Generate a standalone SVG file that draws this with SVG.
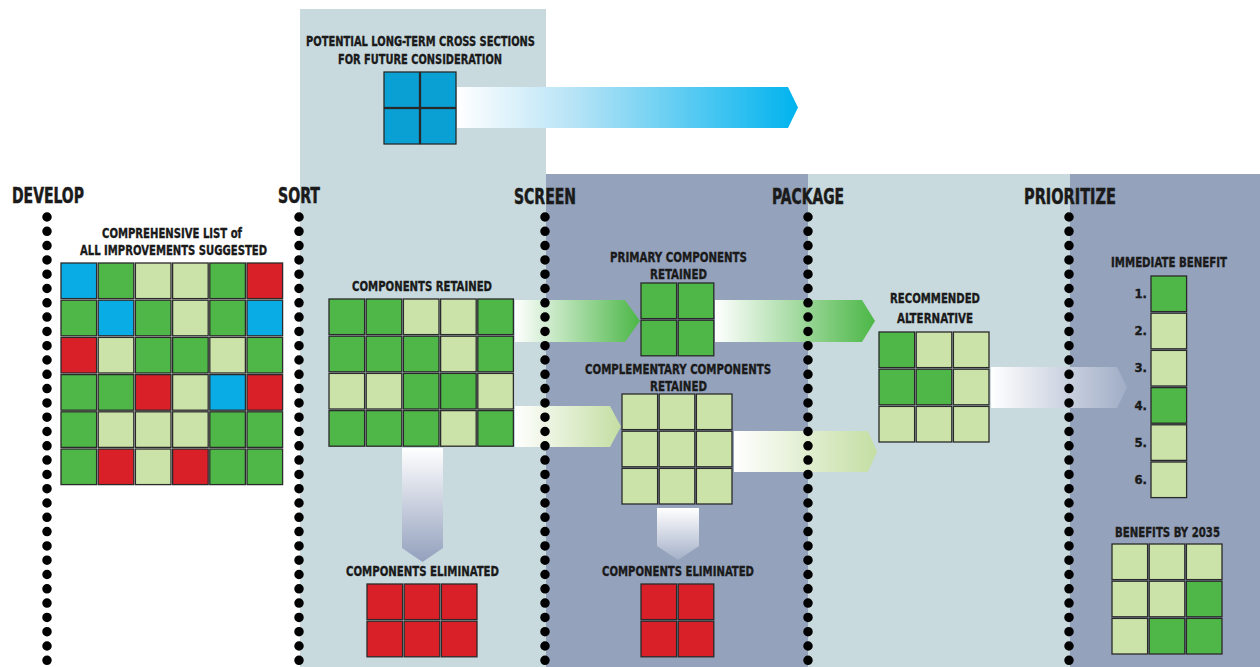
<svg xmlns="http://www.w3.org/2000/svg" width="1260" height="667" viewBox="0 0 1260 667">
<style>
text{font-family:"Liberation Sans Narrow","DejaVu Sans Condensed","Liberation Sans",sans-serif;font-weight:bold;fill:#1a1a1a;stroke:#1a1a1a;stroke-width:0.35}
.h{font-size:21px;stroke-width:0.5}
.t{font-size:14px}
.n{font-size:13px;text-anchor:end}
.c{stroke:#2a2a2a;stroke-width:1.3}
.G{fill:#4eb748}
.L{fill:#cbe2a8}
.R{fill:#d91f27}
.B{fill:#0aacE6}
.T{fill:#0aa0d4}
.dots{stroke:#000;stroke-width:9.5;stroke-linecap:round;stroke-dasharray:0 14.3;fill:none}
</style>
<defs>
<linearGradient id="gBlue" x1="0" y1="0" x2="1" y2="0"><stop offset="0" stop-color="#ffffff"/><stop offset="0.35" stop-color="#b5e3f6"/><stop offset="1" stop-color="#00b3ee"/></linearGradient>
<linearGradient id="gGreen" x1="0" y1="0" x2="1" y2="0"><stop offset="0" stop-color="#ffffff"/><stop offset="1" stop-color="#4cb747"/></linearGradient>
<linearGradient id="gLight" x1="0" y1="0" x2="1" y2="0"><stop offset="0" stop-color="#ffffff"/><stop offset="1" stop-color="#c4dea3"/></linearGradient>
<linearGradient id="gDown" x1="0" y1="0" x2="0" y2="1"><stop offset="0" stop-color="#ffffff"/><stop offset="1" stop-color="#93a0bd"/></linearGradient>
<linearGradient id="gDown2" x1="0" y1="0" x2="0" y2="1"><stop offset="0" stop-color="#ffffff"/><stop offset="1" stop-color="#a4b0c8"/></linearGradient>
<linearGradient id="gGray" x1="0" y1="0" x2="1" y2="0"><stop offset="0" stop-color="#ffffff"/><stop offset="1" stop-color="#a0adc6"/></linearGradient>
</defs>
<rect width="1260" height="667" fill="#ffffff"/>
<g id="panels">
<rect x="300" y="9" width="246" height="658" fill="#c9dadf"/>
<rect x="546" y="174" width="262" height="493" fill="#94a2bc"/>
<rect x="808" y="174" width="262" height="493" fill="#c9dadf"/>
<rect x="1070" y="174" width="190" height="493" fill="#94a2bc"/>
</g>
<g id="connectors">
<polygon points="457,87 788,87 798,107.5 788,128 457,128" fill="url(#gBlue)"/>
<polygon points="515,300 625,300 640,321 625,342 515,342" fill="url(#gGreen)"/>
<polygon points="515,406 610,406 621,426.5 610,447 515,447" fill="url(#gLight)"/>
<polygon points="715,300 862,300 875,321 862,342 715,342" fill="url(#gGreen)"/>
<polygon points="734,431 868,431 877,451.5 868,472 734,472" fill="url(#gLight)"/>
<polygon points="402,448 443,448 443,548 422.5,562 402,548" fill="url(#gDown)"/>
<polygon points="657,508 699,508 699,546 678,560 657,546" fill="url(#gDown2)"/>
<polygon points="991,367 1117,367 1127,387.5 1117,408 991,408" fill="url(#gGray)"/>
</g>
<g id="dividers">
<line class="dots" x1="47" y1="217" x2="47" y2="667"/>
<line class="dots" x1="299" y1="217" x2="299" y2="667"/>
<line class="dots" x1="545" y1="217" x2="545" y2="667"/>
<line class="dots" x1="808" y1="217" x2="808" y2="667"/>
<line class="dots" x1="1069" y1="217" x2="1069" y2="667"/>
</g>
<g id="headers">
<text class="h" x="12" y="203" textLength="72" lengthAdjust="spacingAndGlyphs">DEVELOP</text>
<text class="h" x="278" y="203" textLength="42" lengthAdjust="spacingAndGlyphs">SORT</text>
<text class="h" x="514" y="204" textLength="62" lengthAdjust="spacingAndGlyphs">SCREEN</text>
<text class="h" x="772" y="204" textLength="72" lengthAdjust="spacingAndGlyphs">PACKAGE</text>
<text class="h" x="1024" y="204" textLength="92" lengthAdjust="spacingAndGlyphs">PRIORITIZE</text>
</g>
<g id="comprehensive-list">
<text class="t" x="102" y="238" textLength="140" lengthAdjust="spacingAndGlyphs">COMPREHENSIVE LIST of</text>
<text class="t" x="80" y="255" textLength="187" lengthAdjust="spacingAndGlyphs">ALL IMPROVEMENTS SUGGESTED</text>
<g class="c">
<rect class="B" x="61" y="263" width="35.6" height="35.6"/><rect class="G" x="98.2" y="263" width="35.6" height="35.6"/><rect class="L" x="135.4" y="263" width="35.6" height="35.6"/><rect class="L" x="172.6" y="263" width="35.6" height="35.6"/><rect class="G" x="209.8" y="263" width="35.6" height="35.6"/><rect class="R" x="247" y="263" width="35.6" height="35.6"/>
<rect class="G" x="61" y="300.2" width="35.6" height="35.6"/><rect class="B" x="98.2" y="300.2" width="35.6" height="35.6"/><rect class="G" x="135.4" y="300.2" width="35.6" height="35.6"/><rect class="L" x="172.6" y="300.2" width="35.6" height="35.6"/><rect class="G" x="209.8" y="300.2" width="35.6" height="35.6"/><rect class="B" x="247" y="300.2" width="35.6" height="35.6"/>
<rect class="R" x="61" y="337.4" width="35.6" height="35.6"/><rect class="L" x="98.2" y="337.4" width="35.6" height="35.6"/><rect class="G" x="135.4" y="337.4" width="35.6" height="35.6"/><rect class="G" x="172.6" y="337.4" width="35.6" height="35.6"/><rect class="L" x="209.8" y="337.4" width="35.6" height="35.6"/><rect class="G" x="247" y="337.4" width="35.6" height="35.6"/>
<rect class="G" x="61" y="374.6" width="35.6" height="35.6"/><rect class="G" x="98.2" y="374.6" width="35.6" height="35.6"/><rect class="R" x="135.4" y="374.6" width="35.6" height="35.6"/><rect class="L" x="172.6" y="374.6" width="35.6" height="35.6"/><rect class="B" x="209.8" y="374.6" width="35.6" height="35.6"/><rect class="R" x="247" y="374.6" width="35.6" height="35.6"/>
<rect class="G" x="61" y="411.8" width="35.6" height="35.6"/><rect class="L" x="98.2" y="411.8" width="35.6" height="35.6"/><rect class="L" x="135.4" y="411.8" width="35.6" height="35.6"/><rect class="L" x="172.6" y="411.8" width="35.6" height="35.6"/><rect class="G" x="209.8" y="411.8" width="35.6" height="35.6"/><rect class="G" x="247" y="411.8" width="35.6" height="35.6"/>
<rect class="G" x="61" y="449" width="35.6" height="35.6"/><rect class="R" x="98.2" y="449" width="35.6" height="35.6"/><rect class="L" x="135.4" y="449" width="35.6" height="35.6"/><rect class="R" x="172.6" y="449" width="35.6" height="35.6"/><rect class="G" x="209.8" y="449" width="35.6" height="35.6"/><rect class="G" x="247" y="449" width="35.6" height="35.6"/>
</g>
</g>
<g id="long-term">
<text class="t" x="306" y="46" textLength="229" lengthAdjust="spacingAndGlyphs">POTENTIAL LONG-TERM CROSS SECTIONS</text>
<text class="t" x="338" y="64" textLength="164" lengthAdjust="spacingAndGlyphs">FOR FUTURE CONSIDERATION</text>
<g class="c">
<rect class="T" x="384" y="72" width="35.5" height="35.5"/><rect class="T" x="420.5" y="72" width="35.5" height="35.5"/>
<rect class="T" x="384" y="108.5" width="35.5" height="35.5"/><rect class="T" x="420.5" y="108.5" width="35.5" height="35.5"/>
</g>
</g>
<g id="components-retained">
<text class="t" x="352" y="291" textLength="140" lengthAdjust="spacingAndGlyphs">COMPONENTS RETAINED</text>
<g class="c">
<rect class="G" x="329" y="299" width="35.6" height="35.6"/><rect class="G" x="366.2" y="299" width="35.6" height="35.6"/><rect class="L" x="403.4" y="299" width="35.6" height="35.6"/><rect class="L" x="440.6" y="299" width="35.6" height="35.6"/><rect class="G" x="477.8" y="299" width="35.6" height="35.6"/>
<rect class="G" x="329" y="336.2" width="35.6" height="35.6"/><rect class="G" x="366.2" y="336.2" width="35.6" height="35.6"/><rect class="G" x="403.4" y="336.2" width="35.6" height="35.6"/><rect class="L" x="440.6" y="336.2" width="35.6" height="35.6"/><rect class="G" x="477.8" y="336.2" width="35.6" height="35.6"/>
<rect class="L" x="329" y="373.4" width="35.6" height="35.6"/><rect class="L" x="366.2" y="373.4" width="35.6" height="35.6"/><rect class="G" x="403.4" y="373.4" width="35.6" height="35.6"/><rect class="G" x="440.6" y="373.4" width="35.6" height="35.6"/><rect class="L" x="477.8" y="373.4" width="35.6" height="35.6"/>
<rect class="G" x="329" y="410.6" width="35.6" height="35.6"/><rect class="G" x="366.2" y="410.6" width="35.6" height="35.6"/><rect class="G" x="403.4" y="410.6" width="35.6" height="35.6"/><rect class="L" x="440.6" y="410.6" width="35.6" height="35.6"/><rect class="G" x="477.8" y="410.6" width="35.6" height="35.6"/>
</g>
</g>
<g id="sort-eliminated">
<text class="t" x="346" y="576" textLength="153" lengthAdjust="spacingAndGlyphs">COMPONENTS ELIMINATED</text>
<g class="c">
<rect class="R" x="367" y="584" width="35.6" height="35.6"/><rect class="R" x="404.2" y="584" width="35.6" height="35.6"/><rect class="R" x="441.4" y="584" width="35.6" height="35.6"/>
<rect class="R" x="367" y="621.2" width="35.6" height="35.6"/><rect class="R" x="404.2" y="621.2" width="35.6" height="35.6"/><rect class="R" x="441.4" y="621.2" width="35.6" height="35.6"/>
</g>
</g>
<g id="primary">
<text class="t" x="610" y="262" textLength="137" lengthAdjust="spacingAndGlyphs">PRIMARY COMPONENTS</text>
<text class="t" x="650" y="279" textLength="57" lengthAdjust="spacingAndGlyphs">RETAINED</text>
<g class="c">
<rect class="G" x="641" y="283" width="35.6" height="35.6"/><rect class="G" x="678.2" y="283" width="35.6" height="35.6"/>
<rect class="G" x="641" y="320.2" width="35.6" height="35.6"/><rect class="G" x="678.2" y="320.2" width="35.6" height="35.6"/>
</g>
</g>
<g id="complementary">
<text class="t" x="585" y="374" textLength="186" lengthAdjust="spacingAndGlyphs">COMPLEMENTARY COMPONENTS</text>
<text class="t" x="650" y="391" textLength="57" lengthAdjust="spacingAndGlyphs">RETAINED</text>
<g class="c">
<rect class="L" x="622" y="394" width="35.6" height="35.6"/><rect class="L" x="659.2" y="394" width="35.6" height="35.6"/><rect class="L" x="696.4" y="394" width="35.6" height="35.6"/>
<rect class="L" x="622" y="431.2" width="35.6" height="35.6"/><rect class="L" x="659.2" y="431.2" width="35.6" height="35.6"/><rect class="L" x="696.4" y="431.2" width="35.6" height="35.6"/>
<rect class="L" x="622" y="468.4" width="35.6" height="35.6"/><rect class="L" x="659.2" y="468.4" width="35.6" height="35.6"/><rect class="L" x="696.4" y="468.4" width="35.6" height="35.6"/>
</g>
</g>
<g id="screen-eliminated">
<text class="t" x="602" y="576" textLength="152" lengthAdjust="spacingAndGlyphs">COMPONENTS ELIMINATED</text>
<g class="c">
<rect class="R" x="641" y="584" width="35.6" height="35.6"/><rect class="R" x="678.2" y="584" width="35.6" height="35.6"/>
<rect class="R" x="641" y="621.2" width="35.6" height="35.6"/><rect class="R" x="678.2" y="621.2" width="35.6" height="35.6"/>
</g>
</g>
<g id="recommended">
<text class="t" x="890" y="303" textLength="90" lengthAdjust="spacingAndGlyphs">RECOMMENDED</text>
<text class="t" x="897" y="323" textLength="76" lengthAdjust="spacingAndGlyphs">ALTERNATIVE</text>
<g class="c">
<rect class="G" x="879" y="332" width="35.6" height="35.6"/><rect class="L" x="916.2" y="332" width="35.6" height="35.6"/><rect class="L" x="953.4" y="332" width="35.6" height="35.6"/>
<rect class="G" x="879" y="369.2" width="35.6" height="35.6"/><rect class="G" x="916.2" y="369.2" width="35.6" height="35.6"/><rect class="L" x="953.4" y="369.2" width="35.6" height="35.6"/>
<rect class="L" x="879" y="406.4" width="35.6" height="35.6"/><rect class="L" x="916.2" y="406.4" width="35.6" height="35.6"/><rect class="L" x="953.4" y="406.4" width="35.6" height="35.6"/>
</g>
</g>
<g id="immediate">
<text class="t" x="1111" y="267" textLength="116" lengthAdjust="spacingAndGlyphs">IMMEDIATE BENEFIT</text>
<text class="n" x="1147" y="298">1.</text>
<text class="n" x="1147" y="335.2">2.</text>
<text class="n" x="1147" y="372.4">3.</text>
<text class="n" x="1147" y="409.6">4.</text>
<text class="n" x="1147" y="446.8">5.</text>
<text class="n" x="1147" y="484">6.</text>
<g class="c">
<rect class="G" x="1151" y="276" width="35.6" height="35.6"/>
<rect class="L" x="1151" y="313.2" width="35.6" height="35.6"/>
<rect class="L" x="1151" y="350.4" width="35.6" height="35.6"/>
<rect class="G" x="1151" y="387.6" width="35.6" height="35.6"/>
<rect class="L" x="1151" y="424.8" width="35.6" height="35.6"/>
<rect class="L" x="1151" y="462" width="35.6" height="35.6"/>
</g>
</g>
<g id="benefits-2035">
<text class="t" x="1115" y="537" textLength="105" lengthAdjust="spacingAndGlyphs">BENEFITS BY 2035</text>
<g class="c">
<rect class="L" x="1112" y="544" width="35.6" height="35.6"/><rect class="L" x="1149.2" y="544" width="35.6" height="35.6"/><rect class="L" x="1186.4" y="544" width="35.6" height="35.6"/>
<rect class="L" x="1112" y="581.2" width="35.6" height="35.6"/><rect class="L" x="1149.2" y="581.2" width="35.6" height="35.6"/><rect class="G" x="1186.4" y="581.2" width="35.6" height="35.6"/>
<rect class="L" x="1112" y="618.4" width="35.6" height="35.6"/><rect class="G" x="1149.2" y="618.4" width="35.6" height="35.6"/><rect class="G" x="1186.4" y="618.4" width="35.6" height="35.6"/>
</g>
</g>
</svg>
